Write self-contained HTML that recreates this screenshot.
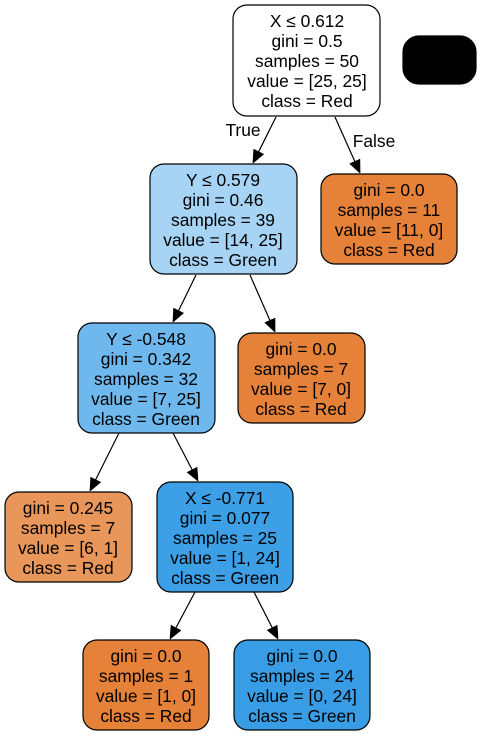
<!DOCTYPE html>
<html><head><meta charset="utf-8"><style>body{margin:0;background:#fff}svg{display:block}</style></head><body>
<svg width="481" height="736" xmlns="http://www.w3.org/2000/svg" font-family="Liberation Sans, sans-serif" font-size="17.4">
<defs><marker id="a" markerWidth="12" markerHeight="14" refX="13" refY="6" orient="auto" markerUnits="userSpaceOnUse"><path d="M0,0L14,6L0,12z" fill="#000"/></marker></defs>
<g stroke="#000" stroke-width="1.2">
<rect x="233" y="5" width="147" height="111" rx="14" fill="#fff"/>
<rect x="403" y="36" width="73" height="48" rx="16" fill="#000"/>
<rect x="150" y="164" width="147" height="110" rx="14" fill="#a7d4f4"/>
<rect x="321" y="174" width="136" height="90" rx="14" fill="#e58139"/>
<rect x="78" y="323" width="137" height="110" rx="14" fill="#6fb8ee"/>
<rect x="238" y="333" width="127" height="90" rx="14" fill="#e58139"/>
<rect x="5" y="492" width="127" height="90" rx="14" fill="#e9965b"/>
<rect x="157" y="482" width="136" height="110" rx="14" fill="#3d9fe5"/>
<rect x="83" y="640" width="126" height="90" rx="14" fill="#e58139"/>
<rect x="234" y="640" width="136" height="90" rx="14" fill="#399de5"/>
<g fill="none">
<line x1="276" y1="117" x2="253" y2="163" marker-end="url(#a)"/>
<line x1="335" y1="117" x2="360" y2="173" marker-end="url(#a)"/>
<line x1="196" y1="275" x2="173" y2="322" marker-end="url(#a)"/>
<line x1="250" y1="275" x2="275" y2="332" marker-end="url(#a)"/>
<line x1="119" y1="433" x2="90" y2="491" marker-end="url(#a)"/>
<line x1="173" y1="433" x2="198" y2="481" marker-end="url(#a)"/>
<line x1="195" y1="592" x2="170" y2="639" marker-end="url(#a)"/>
<line x1="254" y1="592" x2="278" y2="639" marker-end="url(#a)"/>
</g></g>
<g text-anchor="middle" fill="#000">
<text x="307" y="27">X ≤ 0.612</text><text x="307" y="47">gini = 0.5</text><text x="307" y="67">samples = 50</text><text x="307" y="87">value = [25, 25]</text><text x="307" y="107">class = Red</text>
<text x="243" y="136">True</text><text x="374" y="147">False</text>
<text x="223" y="186">Y ≤ 0.579</text><text x="223" y="206">gini = 0.46</text><text x="223" y="226">samples = 39</text><text x="223" y="246">value = [14, 25]</text><text x="223" y="266">class = Green</text>
<text x="389" y="196">gini = 0.0</text><text x="389" y="216">samples = 11</text><text x="389" y="236">value = [11, 0]</text><text x="389" y="256">class = Red</text>
<text x="146" y="345">Y ≤ -0.548</text><text x="146" y="365">gini = 0.342</text><text x="146" y="385">samples = 32</text><text x="146" y="405">value = [7, 25]</text><text x="146" y="425">class = Green</text>
<text x="301" y="355">gini = 0.0</text><text x="301" y="375">samples = 7</text><text x="301" y="395">value = [7, 0]</text><text x="301" y="415">class = Red</text>
<text x="68" y="514">gini = 0.245</text><text x="68" y="534">samples = 7</text><text x="68" y="554">value = [6, 1]</text><text x="68" y="574">class = Red</text>
<text x="225" y="504">X ≤ -0.771</text><text x="225" y="524">gini = 0.077</text><text x="225" y="544">samples = 25</text><text x="225" y="564">value = [1, 24]</text><text x="225" y="584">class = Green</text>
<text x="146" y="662">gini = 0.0</text><text x="146" y="682">samples = 1</text><text x="146" y="702">value = [1, 0]</text><text x="146" y="722">class = Red</text>
<text x="302" y="662">gini = 0.0</text><text x="302" y="682">samples = 24</text><text x="302" y="702">value = [0, 24]</text><text x="302" y="722">class = Green</text>
</g>
</svg>
</body></html>
